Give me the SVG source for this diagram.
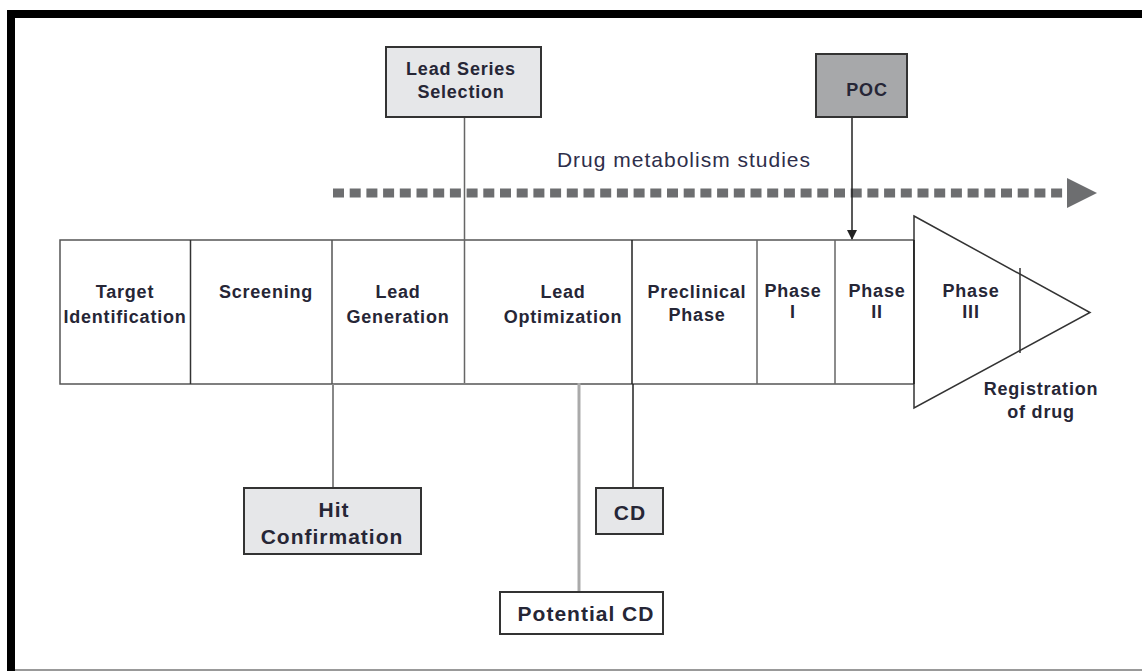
<svg xmlns="http://www.w3.org/2000/svg" width="1142" height="671" viewBox="0 0 1142 671">
<defs>
<style>
.t{font-family:"Liberation Sans",Arial,sans-serif;font-weight:bold;font-size:18px;letter-spacing:0.8px;fill:#262636;text-anchor:middle}
.tl{font-family:"Liberation Sans",Arial,sans-serif;font-weight:bold;font-size:21px;letter-spacing:1px;fill:#262636;text-anchor:middle}
.box{stroke:#333;stroke-width:2}
.cell{fill:none;stroke:#555;stroke-width:1.5}
</style>
<marker id="ah" markerWidth="10" markerHeight="10" refX="9" refY="5" orient="auto" markerUnits="userSpaceOnUse">
<path d="M0,0 L10,5 L0,10 z" fill="#222"/>
</marker>
</defs>
<rect width="1142" height="671" fill="#fff"/>
<g id="frame">
<rect x="7" y="10" width="1135" height="8" fill="#000"/>
<rect x="7" y="10" width="8" height="661" fill="#000"/>
<line x1="15" y1="670" x2="1142" y2="670" stroke="#777" stroke-width="1.5"/>
</g>
<g id="metabolism">
<line x1="333" y1="193" x2="1068" y2="193" stroke="#6d6e70" stroke-width="9" stroke-dasharray="11 5.7"/>
<polygon points="1067,178 1097,193 1067,208" fill="#6d6e70"/>
<text x="684" y="167" style="font-family:'Liberation Sans',Arial,sans-serif;font-size:21px;letter-spacing:1px;fill:#2e2e4a;text-anchor:middle">Drug metabolism studies</text>
</g>
<g id="bar">
<rect x="60" y="240" width="854" height="144" class="cell"/>
<line x1="190.5" y1="240" x2="190.5" y2="384" stroke="#333" stroke-width="1.5"/>
<line x1="332" y1="240" x2="332" y2="384" stroke="#555" stroke-width="1.5"/>
<line x1="632" y1="240" x2="632" y2="384" stroke="#222" stroke-width="1.5"/>
<line x1="757" y1="240" x2="757" y2="384" stroke="#666" stroke-width="1.5"/>
<line x1="835" y1="240" x2="835" y2="384" stroke="#666" stroke-width="1.5"/>
<polygon points="914,216 1090,312.5 914,408" fill="#fff" stroke="#333" stroke-width="1.5"/>
<line x1="914" y1="240" x2="914" y2="384" stroke="#222" stroke-width="1.5"/>
<line x1="1020" y1="268" x2="1020" y2="353" stroke="#333" stroke-width="1.5"/>
</g>
<g id="stages">
<text class="t" x="125" y="298">Target</text><text class="t" x="125" y="323">Identification</text>
<text class="t" x="266" y="298">Screening</text>
<text class="t" x="398" y="298">Lead</text><text class="t" x="398" y="323">Generation</text>
<text class="t" x="563" y="298">Lead</text><text class="t" x="563" y="323">Optimization</text>
<text class="t" x="697" y="298">Preclinical</text><text class="t" x="697" y="321">Phase</text>
<text class="t" x="793" y="297">Phase</text><text class="t" x="793" y="318">I</text>
<text class="t" x="877" y="297">Phase</text><text class="t" x="877" y="318">II</text>
<text class="t" x="971" y="297">Phase</text><text class="t" x="971" y="318">III</text>
<text class="t" x="1041" y="395">Registration</text><text class="t" x="1041" y="418">of drug</text>
</g>
<g id="connectors">
<line x1="464.5" y1="117" x2="464.5" y2="383" stroke="#666" stroke-width="1.5"/>
<line x1="852" y1="117" x2="852" y2="239" stroke="#222" stroke-width="1.5" marker-end="url(#ah)"/>
<line x1="333" y1="384" x2="333" y2="488" stroke="#888" stroke-width="2"/>
<line x1="633" y1="384" x2="633" y2="488" stroke="#222" stroke-width="1.5"/>
<line x1="579" y1="383" x2="579" y2="592" stroke="#aaa" stroke-width="3"/>
</g>
<g id="lead-series">
<rect x="386" y="47" width="155" height="70" fill="#e6e7e9" class="box"/>
<text class="t" x="461" y="75">Lead Series</text><text class="t" x="461" y="98">Selection</text>
</g>
<g id="poc">
<rect x="816" y="54" width="91" height="63" fill="#a7a8aa" class="box"/>
<text class="t" x="867" y="96">POC</text>
</g>
<g id="hit">
<rect x="244" y="488" width="177" height="66" fill="#e6e7e9" class="box"/>
<text class="tl" x="334" y="517">Hit</text><text class="tl" x="332" y="544">Confirmation</text>
</g>
<g id="cd">
<rect x="596" y="488" width="67" height="46" fill="#e6e7e9" class="box"/>
<text class="tl" x="630" y="520">CD</text>
</g>
<g id="potential-cd">
<rect x="500" y="592" width="163" height="42" fill="#fff" class="box"/>
<text class="tl" x="586" y="621">Potential CD</text>
</g>
</svg>
